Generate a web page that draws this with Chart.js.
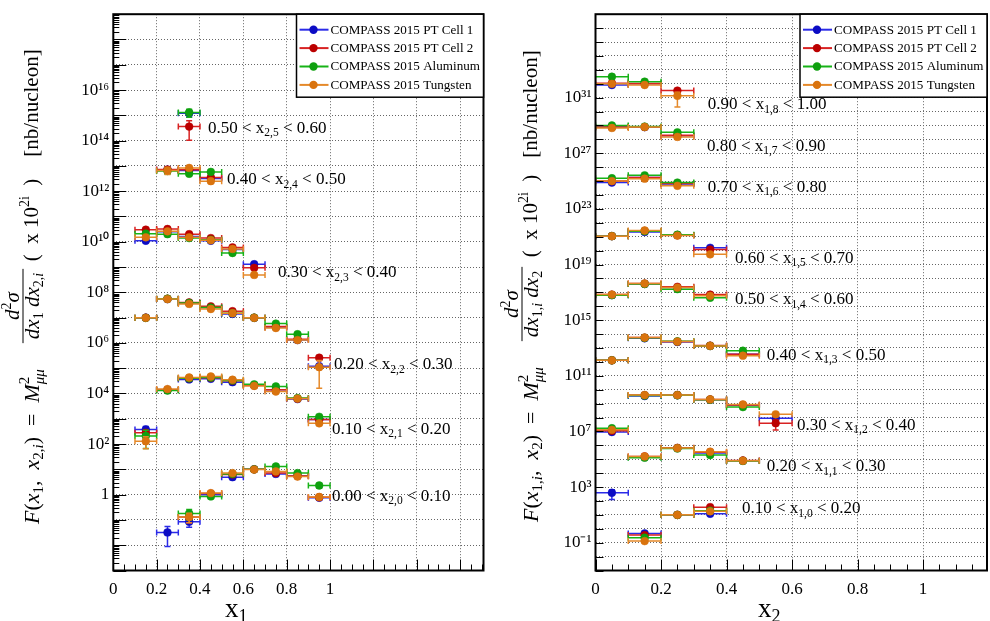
<!DOCTYPE html>
<html>
<head>
<meta charset="utf-8">
<script src="https://cdn.jsdelivr.net/npm/chart.js@4.4.0/dist/chart.umd.min.js"></script>
<style>
  body { margin: 0; background: #fff; }
  #wrap { position: relative; width: 990px; height: 621px; }
  canvas { position: absolute; top: 0; }
</style>
</head>
<body>
<div id="wrap">
  <canvas id="leftChart" width="495" height="621" style="left:0"></canvas>
  <canvas id="rightChart" width="495" height="621" style="left:495px"></canvas>
</div>
<script>
// series
const seriesNames = ['COMPASS 2015 PT Cell 1', 'COMPASS 2015 PT Cell 2', 'COMPASS 2015 Aluminum', 'COMPASS 2015 Tungsten'];
const markerColors = ['#0c0cc4', '#bb0000', '#0fa00f', '#d9730e'];
const barColors = ['#2b2be8', '#d82222', '#17b317', '#e5892a'];

// bin centres
const x1Centers = [0.15, 0.25, 0.35, 0.45, 0.55, 0.65, 0.75, 0.85, 0.95];
const x2Centers = [0.05, 0.15, 0.25, 0.35, 0.45, 0.55];
const binHalfWidth = 0.05;

// left panel: one row per x2 bin (i = 0..5), columns follow x1Centers
const leftCell1 = [
  [null, 3.2e-2, 8.5e-2, 1.0, 4.9, 10, 6.6, 5.6, 0.76],
  [380, 1.4e4, 3.6e4, 3.8e4, 2.8e4, 2.1e4, 1.4e4, 6.0e3, 930],
  [1.0e7, 5.4e7, 3.8e7, 2.5e7, 1.4e7, 9.8e6, 4.2e6, 1.3e6, 1.2e5],
  [1.1e10, 2.5e10, 1.6e10, 1.1e10, 5.0e9, 1.3e9],
  [null, 7.1e12, 6.6e12, 3.2e12],
  [null, null, 1.2e15]
];
const leftCell2 = [
  [null, null, 0.13, 1.1, 6.3, 10, 7.1, 5.5, 0.79],
  [280, 1.4e4, 4.0e4, 4.2e4, 3.2e4, 2.1e4, 1.4e4, 6.3e3, 930],
  [1.0e7, 5.6e7, 4.0e7, 2.8e7, 1.8e7, 1.0e7, 4.5e6, 1.4e6, 2.6e5],
  [3.0e10, 3.2e10, 2.0e10, 1.4e10, 6.0e9, 9.3e8],
  [null, 7.2e12, 7.1e12, 3.5e12],
  [null, null, 3.6e14]
];
const leftAluminum = [
  [null, null, 0.18, 0.85, 6.6, 10, 13, 7.1, 2.3],
  [210, 1.3e4, 4.0e4, 4.3e4, 3.3e4, 2.3e4, 1.9e4, 6.6e3, 1.2e3],
  [9.8e6, 5.6e7, 3.8e7, 2.5e7, 1.5e7, 1.0e7, 5.8e6, 2.2e6, null],
  [2.1e10, 2.0e10, 1.4e10, 1.2e10, 3.6e9],
  [null, 6.3e12, 4.9e12, 5.8e12],
  [null, null, 1.3e15]
];
const leftTungsten = [
  [null, null, 0.13, 1.15, 7.1, 9.8, 8.3, 5.2, 0.81],
  [130, 1.5e4, 4.3e4, 4.7e4, 3.5e4, 2.0e4, 1.2e4, 6.3e3, 660],
  [9.8e6, 5.4e7, 3.5e7, 2.2e7, 1.5e7, 9.8e6, 3.9e6, 1.3e6, 1.1e5],
  [1.5e10, 2.6e10, 1.5e10, 1.15e10, 5.2e9, 4.9e8],
  [null, 6.6e12, 8.3e12, 2.5e12],
  []
];

// right panel: one row per x1 bin (i = 0..8), columns follow x2Centers
const rightCell1 = [
  [390, 0.46, 10, 12],
  [null, 1.4e5, 6.3e5, 2.8e5, 7.8e4],
  [9.1e6, 3.5e9, 4.0e9, 1.9e9, 7.6e8, 8.7e7],
  [1.3e12, 5.0e13, 2.7e13, 1.4e13, 3.5e12],
  [6.3e16, 4.0e17, 2.2e17, 6.3e16],
  [1.1e21, 2.2e21, 1.3e21, 1.6e20],
  [7.8e24, 1.8e25, 6.3e24],
  [7.6e28, 7.6e28, 1.8e28],
  [8.1e31, 1.0e32]
];
const rightCell2 = [
  [null, 0.35, 10, 36],
  [null, 1.6e5, 6.6e5, 3.2e5, 8.1e4],
  [1.1e7, 4.1e9, 4.2e9, 2.0e9, 7.9e8, 3.9e7],
  [1.3e12, 5.6e13, 2.9e13, 1.5e13, 3.6e12],
  [6.9e16, 4.3e17, 2.5e17, 6.9e16],
  [1.1e21, 2.6e21, 1.3e21, 1.2e20],
  [1.0e25, 1.8e25, 6.6e24],
  [7.9e28, 7.8e28, 2.0e28],
  [1.1e32, 1.05e32, 3.2e31]
];
const rightAluminum = [
  [null, 0.23, 10, 20],
  [null, 1.3e5, 6.0e5, 2.0e5, 7.6e4],
  [1.7e7, 3.8e9, 4.0e9, 1.9e9, 5.6e8],
  [1.3e12, 5.4e13, 3.0e13, 1.4e13, 6.3e12],
  [6.3e16, 4.0e17, 1.7e17, 4.1e16],
  [1.1e21, 2.5e21, 1.4e21],
  [1.6e25, 2.6e25, 7.8e24],
  [1.0e29, 8.3e28, 3.2e28],
  [3.2e32, 1.4e32]
];
const rightTungsten = [
  [null, 0.13, 10, 18],
  [null, 1.6e5, 6.3e5, 3.5e5, 7.8e4],
  [1.3e7, 4.1e9, 4.1e9, 2.0e9, 8.7e8, 1.7e8],
  [1.3e12, 5.6e13, 2.9e13, 1.4e13, 2.8e12],
  [6.9e16, 4.3e17, 2.2e17, 5.6e16],
  [1.1e21, 2.8e21, 1.2e21, 5.4e19],
  [1.0e25, 1.5e25, 4.6e24],
  [6.6e28, 7.8e28, 1.5e28],
  [9.8e31, 8.1e31, 1.35e31]
];

// relative vertical errors: default, plus the larger ones [series, row, column, relErr]
const defaultRelErr = 0.1;
const leftBigErrors = [
  [0, 5, 2, 0.3], [1, 5, 2, 0.71], [2, 5, 2, 0.35],
  [3, 2, 8, 0.855], [1, 2, 8, 0.15],
  [0, 0, 1, 0.72],
  [0, 0, 2, 0.4], [1, 0, 2, 0.4], [2, 0, 2, 0.45], [3, 0, 2, 0.4],
  [0, 1, 0, 0.3], [1, 1, 0, 0.3], [2, 1, 0, 0.68], [3, 1, 0, 0.5],
  [2, 0, 8, 0.2],
  [0, 4, 1, 0.25], [1, 4, 1, 0.25], [2, 4, 1, 0.25], [3, 4, 1, 0.3]
];
const rightBigErrors = [
  [3, 8, 2, 0.845], [1, 8, 2, 0.25],
  [1, 2, 5, 0.68],
  [0, 0, 0, 0.67]
];

// bin label texts
const leftBinEdges = ['0.00', '0.10', '0.20', '0.30', '0.40', '0.50', '0.60'];
const rightBinEdges = ['0.10', '0.20', '0.30', '0.40', '0.50', '0.60', '0.70', '0.80', '0.90', '1.00'];

// axis ticks
const leftXGrid = [0, 0.2, 0.4, 0.6, 0.8, 1.0, 1.2, 1.4, 1.6];
const rightXGrid = [0, 0.2, 0.4, 0.6, 0.8, 1.0];
const leftYLabelExps = [0, 2, 4, 6, 8, 10, 12, 14, 16];
const rightYLabelExps = [-1, 3, 7, 11, 15, 19, 23, 27, 31];

// where the bin labels sit (x value, y value)
const leftLabelAt = [[1.009, 0.85], [1.009, 390], [1.018, 1.35e5], [0.76, 6.0e8], [0.525, 2.9e12], [0.437, 3.1e14]];
const rightLabelAt = [[0.447, 27.5], [0.523, 2.9e4], [0.615, 2.75e7], [0.523, 2.9e12], [0.426, 2.9e16],
  [0.426, 2.9e19], [0.343, 3.5e24], [0.34, 3.2e27], [0.343, 3.1e30]];

const FONT = "'Liberation Serif', 'Times New Roman', serif";
const SUP = {'0':'⁰','1':'¹','2':'²','3':'³','4':'⁴','5':'⁵','6':'⁶','7':'⁷','8':'⁸','9':'⁹','-':'⁻'};

function buildDatasets(tables, centers, bigErrors) {
  return tables.map(function (rows, s) {
    const pts = [];
    rows.forEach(function (row, r) {
      row.forEach(function (v, c) {
        if (v === null || v === undefined) return;
        let rel = defaultRelErr;
        bigErrors.forEach(function (e) {
          if (e[0] === s && e[1] === r && e[2] === c) rel = e[3];
        });
        pts.push({ x: centers[c], y: v, rel: rel });
      });
    });
    return {
      label: seriesNames[s],
      data: pts,
      order: 3 - s,
      pointRadius: 3.9,
      pointHoverRadius: 3.9,
      pointBackgroundColor: markerColors[s],
      pointBorderColor: markerColors[s],
      pointBorderWidth: 0.5,
      barColor: barColors[s],
      showLine: false
    };
  });
}

// draw a sequence of text runs: [text, size, style, dy, noAdvance]
function drawRuns(ctx, x, y, runs, measureOnly) {
  let cx = x;
  runs.forEach(function (r) {
    ctx.font = (r[2] || '') + ' ' + r[1] + 'px ' + FONT;
    if (!measureOnly) ctx.fillText(r[0], cx, y + (r[3] || 0));
    if (!r[4]) cx += ctx.measureText(r[0]).width;
  });
  return cx - x;
}

function drawRotated(ctx, baseX, screenY, runs) {
  ctx.save();
  ctx.translate(baseX, screenY);
  ctx.rotate(-Math.PI / 2);
  drawRuns(ctx, 0, 0, runs);
  ctx.restore();
}

// error bars drawn just before each dataset's markers
const errorBars = {
  id: 'errorBars',
  beforeDatasetDraw(chart, args) {
    const ds = chart.data.datasets[args.index];
    const x = chart.scales.x, y = chart.scales.y, a = chart.chartArea;
    const ctx = chart.ctx;
    ctx.save();
    ctx.beginPath();
    ctx.rect(a.left, a.top, a.right - a.left, a.bottom - a.top);
    ctx.clip();
    ctx.strokeStyle = ds.barColor;
    ctx.lineWidth = 1.5;
    ds.data.forEach(function (p) {
      const px = x.getPixelForValue(p.x), py = y.getPixelForValue(p.y);
      const xl = x.getPixelForValue(p.x - binHalfWidth), xr = x.getPixelForValue(p.x + binHalfWidth);
      const yt = y.getPixelForValue(p.y * (1 + p.rel)), yb = y.getPixelForValue(p.y * (1 - p.rel));
      ctx.beginPath();
      ctx.moveTo(xl, py); ctx.lineTo(xr, py);
      ctx.moveTo(xl, py - 3); ctx.lineTo(xl, py + 3);
      ctx.moveTo(xr, py - 3); ctx.lineTo(xr, py + 3);
      ctx.moveTo(px, yt); ctx.lineTo(px, yb);
      ctx.moveTo(px - 3, yt); ctx.lineTo(px + 3, yt);
      ctx.moveTo(px - 3, yb); ctx.lineTo(px + 3, yb);
      ctx.stroke();
    });
    ctx.restore();
  }
};

// frame, ticks, legend, bin labels, axis titles
const decor = {
  id: 'decor',
  afterDatasetsDraw(chart, args, o) {
    const ctx = chart.ctx, a = chart.chartArea, x = chart.scales.x, y = chart.scales.y;
    ctx.save();
    ctx.strokeStyle = '#000';
    ctx.fillStyle = '#000';
    // x ticks (inside)
    ctx.lineWidth = 1;
    ctx.beginPath();
    for (let k = 0; k * 0.05 <= x.max + 1e-9; k++) {
      const px = Math.round(x.getPixelForValue(k * 0.05)) + 0.5;
      const len = k % 4 === 0 ? 11 : 6;
      ctx.moveTo(px, a.bottom); ctx.lineTo(px, a.bottom - len);
    }
    // y ticks (inside)
    const e0 = Math.round(Math.log10(y.min)), e1 = Math.round(Math.log10(y.max));
    for (let e = e0; e <= e1; e++) {
      const py = Math.round(y.getPixelForValue(Math.pow(10, e))) + 0.5;
      ctx.moveTo(a.left, py); ctx.lineTo(a.left + o.yMajorLen, py);
      if (o.yMinor && e < e1) {
        for (let m = 2; m <= 9; m++) {
          const pm = Math.round(y.getPixelForValue(m * Math.pow(10, e))) + 0.5;
          ctx.moveTo(a.left, pm); ctx.lineTo(a.left + 6, pm);
        }
      }
    }
    ctx.stroke();
    // frame
    ctx.lineWidth = 2;
    ctx.strokeRect(a.left, a.top, a.right - a.left, a.bottom - a.top);

    // bin labels
    ctx.textBaseline = 'middle';
    o.labelAt.forEach(function (pos, i) {
      const px = x.getPixelForValue(pos[0]), py = y.getPixelForValue(pos[1]);
      drawRuns(ctx, px, py, [
        [o.edges[i] + ' < x', 17], [o.subPrefix + i, 11.5, '', 5], [' < ' + o.edges[i + 1], 17]
      ]);
    });

    // legend
    const lw = 187, lh = 83;
    const lx = a.right - lw, ly = a.top;
    ctx.fillStyle = '#fff';
    ctx.fillRect(lx, ly, lw, lh);
    ctx.lineWidth = 1.5;
    ctx.strokeRect(lx, ly, lw, lh);
    chart.data.datasets.forEach(function (ds, i) {
      const ry = ly + 15.5 + i * 18.4;
      ctx.strokeStyle = ds.barColor;
      ctx.lineWidth = 2;
      ctx.beginPath(); ctx.moveTo(lx + 3, ry); ctx.lineTo(lx + 32, ry); ctx.stroke();
      ctx.fillStyle = ds.pointBackgroundColor;
      ctx.beginPath(); ctx.arc(lx + 17, ry, 4.2, 0, Math.PI * 2); ctx.fill();
      ctx.fillStyle = '#000';
      ctx.font = '13.1px ' + FONT;
      ctx.fillText(ds.label, lx + 34, ry + 0.5);
    });

    // x axis title
    ctx.textBaseline = 'alphabetic';
    drawRuns(ctx, x.getPixelForValue(o.xTitleAt), 617, [['x', 27], [o.xTitleSub, 18, '', 5]]);

    // y axis title, rotated
    const t = o.yTitle;
    drawRotated(ctx, t.baseX, t.mainStart, t.main);
    const wn = drawRuns(ctx, 0, 0, t.num, true), wd = drawRuns(ctx, 0, 0, t.den, true);
    const W = Math.max(wn, wd) + 8;
    const fs = t.fracCenter + W / 2;
    ctx.save();
    ctx.translate(t.baseX, fs);
    ctx.rotate(-Math.PI / 2);
    drawRuns(ctx, (W - wn) / 2, -20, t.num);
    drawRuns(ctx, (W - wd) / 2, 0, t.den);
    ctx.lineWidth = 1;
    ctx.strokeStyle = '#000';
    ctx.beginPath(); ctx.moveTo(0, -16); ctx.lineTo(W, -16); ctx.stroke();
    ctx.restore();
    const paren = [['(  x 10', 21], ['2i', 14, '', -9], ['  )', 21]];
    const wp = drawRuns(ctx, 0, 0, paren, true);
    drawRotated(ctx, t.baseX - 1, t.parenCenter + wp / 2, paren);
    const unit = [['[nb/nucleon]', 21]];
    const wu = drawRuns(ctx, 0, 0, unit, true);
    drawRotated(ctx, t.baseX - 1, t.unitCenter + wu / 2, unit);
    ctx.restore();
  }
};

function supText(e) {
  if (e === 0) return '1';
  return '10' + String(e).split('').map(function (c) { return SUP[c]; }).join('');
}

function makeChart(id, p) {
  const decades = [];
  for (let e = p.yMinExp; e <= p.yMaxExp; e++) decades.push(Math.pow(10, e));
  return new Chart(document.getElementById(id), {
    type: 'scatter',
    data: { datasets: p.datasets },
    options: {
      responsive: false,
      animation: false,
      devicePixelRatio: 1,
      layout: { autoPadding: false, padding: { top: 9, right: p.padRight, bottom: 0, left: 0 } },
      plugins: {
        legend: { display: false },
        tooltip: { enabled: false },
        decor: p.decor
      },
      scales: {
        x: {
          type: 'linear',
          min: 0,
          max: p.xMax,
          afterBuildTicks: function (s) { s.ticks = p.xGrid.map(function (v) { return { value: v }; }); },
          afterFit: function (s) { s.height = 50.5; },
          grid: { color: '#666', lineWidth: 1, drawTicks: false },
          border: { display: false, dash: [1, 2] },
          ticks: {
            autoSkip: false,
            maxRotation: 0,
            padding: 9,
            color: '#000',
            font: { family: FONT, size: 17 },
            callback: function (v) { return v <= 1.0001 ? String(+v.toFixed(1)) : ''; }
          }
        },
        y: {
          type: 'logarithmic',
          min: decades[0],
          max: decades[decades.length - 1],
          afterBuildTicks: function (s) { s.ticks = decades.map(function (v) { return { value: v }; }); },
          afterFit: function (s) { s.width = p.yWidth; },
          grid: { color: '#666', lineWidth: 1, drawTicks: false },
          border: { display: false, dash: [1, 2] },
          ticks: {
            autoSkip: false,
            padding: 4,
            color: '#000',
            font: { family: FONT, size: 17 },
            callback: function (v) {
              const e = Math.round(Math.log10(v));
              return p.labelExps.indexOf(e) >= 0 ? supText(e) : '';
            }
          }
        }
      }
    },
    plugins: [errorBars, decor]
  });
}

makeChart('leftChart', {
  datasets: buildDatasets([leftCell1, leftCell2, leftAluminum, leftTungsten], x1Centers, leftBigErrors),
  xMax: 1.708, xGrid: leftXGrid,
  yMinExp: -3, yMaxExp: 19, labelExps: leftYLabelExps,
  yWidth: 113.3, padRight: 11.5,
  decor: {
    yMajorLen: 13, yMinor: true,
    labelAt: leftLabelAt, edges: leftBinEdges, subPrefix: '2,',
    xTitleAt: 0.515, xTitleSub: '1',
    yTitle: {
      baseX: 39, mainStart: 524, fracCenter: 306, parenCenter: 220, unitCenter: 103,
      main: [['F', 22, 'italic'], ['(', 22], ['x', 22, 'italic'], ['1', 15, '', 4], [',  ', 22], ['x', 22, 'italic'],
        ['2,', 15, '', 4], ['i', 15, 'italic', 4], [')', 22], ['  =  ', 22], ['M', 22, 'italic'],
        ['2', 15, '', -10, true], ['μμ', 15, 'italic', 5]],
      num: [['d', 21, 'italic'], ['2', 14, '', -8], ['σ', 21, 'italic']],
      den: [['dx', 21, 'italic'], ['1', 14, '', 4], [' dx', 21, 'italic'], ['2,', 14, '', 4], ['i', 14, 'italic', 4]]
    }
  }
});

makeChart('rightChart', {
  datasets: buildDatasets([rightCell1, rightCell2, rightAluminum, rightTungsten], x2Centers, rightBigErrors),
  xMax: 1.195, xGrid: rightXGrid,
  yMinExp: -3, yMaxExp: 37, labelExps: rightYLabelExps,
  yWidth: 100.5, padRight: 3,
  decor: {
    yMajorLen: 8, yMinor: false,
    labelAt: rightLabelAt, edges: rightBinEdges, subPrefix: '1,',
    xTitleAt: 0.496, xTitleSub: '2',
    yTitle: {
      baseX: 43, mainStart: 522, fracCenter: 304, parenCenter: 216, unitCenter: 104,
      main: [['F', 22, 'italic'], ['(', 22], ['x', 22, 'italic'], ['1,', 15, '', 4], ['i', 15, 'italic', 4], [',  ', 22],
        ['x', 22, 'italic'], ['2', 15, '', 4], [')', 22], ['  =  ', 22], ['M', 22, 'italic'],
        ['2', 15, '', -10, true], ['μμ', 15, 'italic', 5]],
      num: [['d', 21, 'italic'], ['2', 14, '', -8], ['σ', 21, 'italic']],
      den: [['dx', 21, 'italic'], ['1,', 14, '', 4], ['i', 14, 'italic', 4], [' dx', 21, 'italic'], ['2', 14, '', 4]]
    }
  }
});
</script>
</body>
</html>
